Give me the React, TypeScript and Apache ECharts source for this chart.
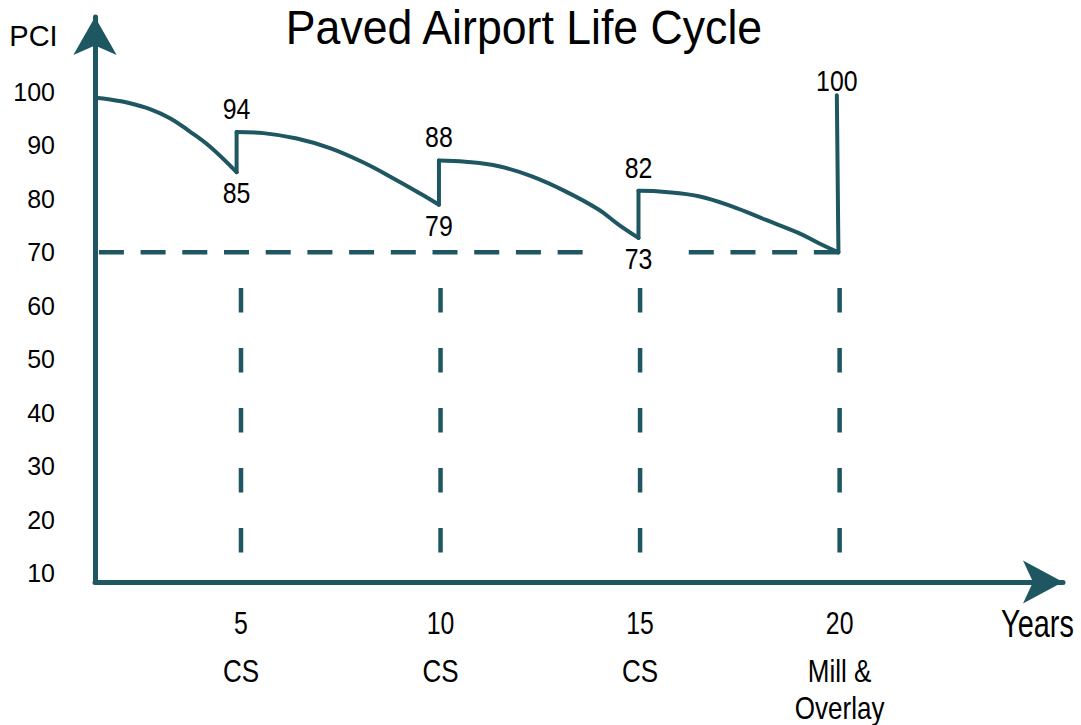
import { useEffect, useRef } from 'react';
import * as echarts from 'echarts';

// ---- data ----
const chartTitle = 'Paved Airport Life Cycle';
const yAxisName = 'PCI';
const xAxisName = 'Years';
const yTicks = [10, 20, 30, 40, 50, 60, 70, 80, 90, 100];
const xTicks = [5, 10, 15, 20];
const treatments = ['CS', 'CS', 'CS', 'Mill &\nOverlay'];
const threshold = 70;
// the dashed 70-PCI line is drawn in two pieces (gap around the "73" label)
const thresholdSpans = [[1.44, 13.7], [16.22, 19.97]];

// PCI deterioration arcs [year, PCI]
const arc1 = [[1.34, 98.9], [1.72, 98.6], [2.22, 97.9], [2.72, 96.8], [3.22, 95.1], [3.72, 92.6], [4.22, 89.8], [4.89, 85.0]];
const arc2 = [[4.89, 92.5], [5.56, 92.3], [6.4, 91.3], [7.23, 89.5], [8.07, 86.8], [8.9, 83.5], [9.49, 81.0], [9.96, 78.9]];
const arc3 = [[9.96, 87.2], [10.62, 86.95], [11.46, 86.1], [12.29, 84.2], [13.13, 81.4], [13.96, 78.0], [14.46, 75.2], [14.96, 72.7]];
const arc4 = [[14.96, 81.5], [15.63, 81.3], [16.47, 80.5], [17.3, 78.6], [18.14, 76.1], [18.98, 73.6], [19.48, 71.7], [19.97, 70.0]];
const overlay = [[19.97, 70.0], [19.93, 99.4]];
const peakLabels = ['94', '88', '82'];
const overlayLabel = '100';
const dipLabels = ['85', '79', '73'];

// axis ranges / guide extent
const X_MIN = 1.342;
const X_MAX = 25.597;
const Y_MIN = 8.31;
const Y_MAX = 114.03;
const GUIDE_TOP = 63.3;
const GUIDE_BOTTOM = 13.6;

const TEAL = '#1e5761';
const INK = '#000000';
const ARIAL = '"Liberation Sans", Arial, sans-serif';

const textEl = (text: string, x: number, y: number, size: number, scaleX: number) => ({
  type: 'text',
  x,
  y,
  scaleX,
  silent: true,
  style: { text, x: 0, y: 0, align: 'center', verticalAlign: 'middle', font: `${size}px ${ARIAL}`, fill: INK },
});

export default function App() {
  const ref = useRef<HTMLDivElement>(null);
  useEffect(() => {
    if (!ref.current) return;
    const chart = echarts.init(ref.current, null, { renderer: 'svg' });
    const arcs = [arc1, arc2, arc3, arc4];
    const jumps = [
      [arc1[arc1.length - 1], arc2[0]],
      [arc2[arc2.length - 1], arc3[0]],
      [arc3[arc3.length - 1], arc4[0]],
      overlay,
    ];
    const peaks = [arc2[0], arc3[0], arc4[0]];
    const dips = [arc1[arc1.length - 1], arc2[arc2.length - 1], arc3[arc3.length - 1]];
    const lineBase = { type: 'line', symbol: 'none', silent: true, z: 3 };

    const labelSeries = (name: string, pts: number[][], texts: string[], dy: number) => ({
      type: 'custom',
      name,
      silent: true,
      clip: false,
      z: 5,
      data: pts,
      renderItem: (params: any, api: any) => {
        const p = api.coord([api.value(0), api.value(1)]);
        return textEl(texts[params.dataIndex], p[0], p[1] + dy, 30, 0.83);
      },
    });

    chart.setOption({
      animation: false,
      grid: { left: 95, right: 18, top: 17, bottom: 143, containLabel: false, outerBoundsMode: 'none' },
      xAxis: {
        type: 'value',
        min: X_MIN,
        max: X_MAX,
        splitLine: { show: false },
        axisTick: { show: false },
        axisLabel: { show: false },
        axisLine: {
          show: true,
          onZero: false,
          symbol: ['none', 'arrow'],
          symbolSize: [32.3, 40],
          lineStyle: { color: TEAL, width: 5 },
        },
      },
      yAxis: {
        type: 'value',
        min: Y_MIN,
        max: Y_MAX,
        splitLine: { show: false },
        axisTick: { show: false },
        axisLine: {
          show: true,
          onZero: false,
          symbol: ['none', 'arrow'],
          symbolSize: [32.5, 38],
          lineStyle: { color: TEAL, width: 5 },
        },
        axisLabel: {
          customValues: yTicks,
          hideOverlap: false,
          margin: 40,
          fontFamily: ARIAL,
          fontSize: 25,
          color: INK,
        },
      },
      graphic: [
        textEl(chartTitle, 524, 27, 48, 0.93),
        textEl(yAxisName, 33.5, 36, 29, 1),
        textEl(xAxisName, 1037.5, 623, 38, 0.76),
      ],
      series: [
        ...arcs.map((d, i) => ({
          ...lineBase,
          name: `arc${i + 1}`,
          data: d,
          smooth: 0.4,
          lineStyle: { color: TEAL, width: 4, cap: 'round', join: 'round' },
        })),
        ...jumps.map((d, i) => ({
          ...lineBase,
          name: `jump${i + 1}`,
          data: d,
          lineStyle: { color: TEAL, width: 4, cap: 'round', join: 'miter' },
        })),
        ...thresholdSpans.map((s, i) => ({
          ...lineBase,
          name: `threshold${i + 1}`,
          data: [[s[0], threshold], [s[1], threshold]],
          lineStyle: { color: TEAL, width: 4.5, type: [25, 16.7] },
        })),
        ...xTicks.map((x, i) => ({
          ...lineBase,
          name: `guide${i + 1}`,
          data: [[x, GUIDE_TOP], [x, GUIDE_BOTTOM]],
          lineStyle: { color: TEAL, width: 4.5, type: [24.5, 35.5] },
        })),
        labelSeries('peakLabels', peaks, peakLabels, -23.4),
        labelSeries('overlayLabel', [overlay[1]], [overlayLabel], -15),
        labelSeries('dipLabels', dips, dipLabels, 20.7),
        {
          type: 'custom',
          name: 'xTickLabels',
          silent: true,
          clip: false,
          z: 5,
          data: xTicks.map((x) => [x, Y_MIN]),
          renderItem: (params: any, api: any) => {
            const p = api.coord([api.value(0), api.value(1)]);
            const i = params.dataIndex;
            const lines = treatments[i].split('\n');
            return {
              type: 'group',
              children: [
                textEl(String(xTicks[i]), p[0], p[1] + 42, 31, 0.8),
                ...lines.map((s, k) => textEl(s, p[0], p[1] + 89.5 + 36.5 * k, 31, 0.84)),
              ],
            };
          },
        },
      ],
    });
    return () => chart.dispose();
  }, []);
  return <div ref={ref} style={{ position: 'absolute', left: 0, top: 0, width: 1081, height: 725 }} />;
}
